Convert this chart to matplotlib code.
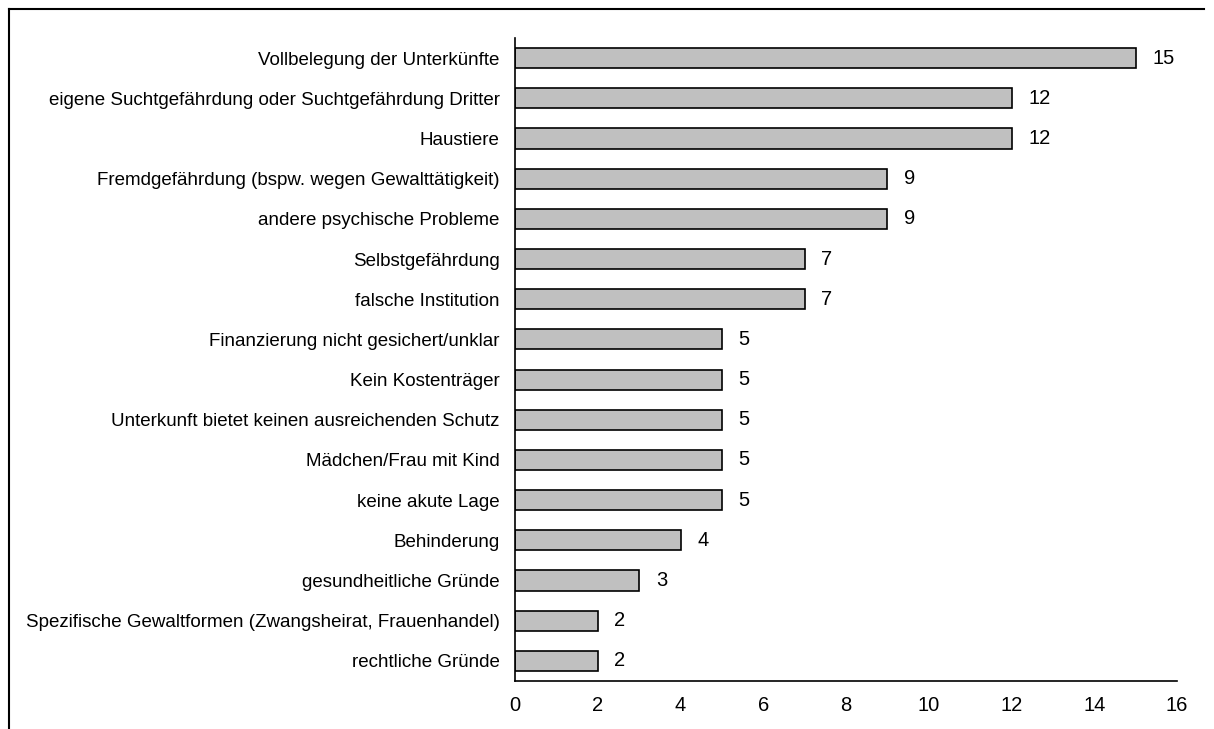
import matplotlib
matplotlib.use("Agg")
import matplotlib.pyplot as plt
from matplotlib.lines import Line2D

categories = [
    "Vollbelegung der Unterkünfte",
    "eigene Suchtgefährdung oder Suchtgefährdung Dritter",
    "Haustiere",
    "Fremdgefährdung (bspw. wegen Gewalttätigkeit)",
    "andere psychische Probleme",
    "Selbstgefährdung",
    "falsche Institution",
    "Finanzierung nicht gesichert/unklar",
    "Kein Kostenträger",
    "Unterkunft bietet keinen ausreichenden Schutz",
    "Mädchen/Frau mit Kind",
    "keine akute Lage",
    "Behinderung",
    "gesundheitliche Gründe",
    "Spezifische Gewaltformen (Zwangsheirat, Frauenhandel)",
    "rechtliche Gründe",
]
values = [15, 12, 12, 9, 9, 7, 7, 5, 5, 5, 5, 5, 4, 3, 2, 2]
xticks = [0, 2, 4, 6, 8, 10, 12, 14, 16]

plt.rcParams['font.family'] = ['Liberation Sans', 'DejaVu Sans']

W, H = 1214, 729
fig = plt.figure(figsize=(W / 100, H / 100), dpi=100)
ax = fig.add_axes([515 / W, 1 - 681 / H, (1177 - 515) / W, (681 - 38) / H])

ypos = list(range(len(categories)))
ax.barh(ypos, values, height=0.5, color="#c0c0c0", edgecolor="black", linewidth=1.2)
ax.set_ylim(len(categories) - 0.5, -0.5)
ax.set_xlim(0, 16)
ax.set_yticks(ypos)
ax.set_yticklabels(categories, fontsize=13.5)
ax.set_xticks(xticks)
ax.set_xticklabels([str(t) for t in xticks], fontsize=14.5)
ax.tick_params(axis='both', length=0)
ax.tick_params(axis='y', pad=11)
ax.tick_params(axis='x', pad=11)
for s in ["top", "right"]:
    ax.spines[s].set_visible(False)
for s in ["left", "bottom"]:
    ax.spines[s].set_linewidth(1.2)

for y, v in zip(ypos, values):
    ax.annotate(str(v), (v, y), xytext=(12, 0), textcoords="offset points",
                va="center", ha="left", fontsize=14.5)

# figure frame (left and top edges visible)
fig.add_artist(Line2D([9 / W, 9 / W], [0, 1 - 9 / H], transform=fig.transFigure,
                      color="black", linewidth=1.5))
fig.add_artist(Line2D([9 / W, 1204 / W], [1 - 9 / H, 1 - 9 / H], transform=fig.transFigure,
                      color="black", linewidth=1.5))

fig.savefig("out.png", dpi=100)
